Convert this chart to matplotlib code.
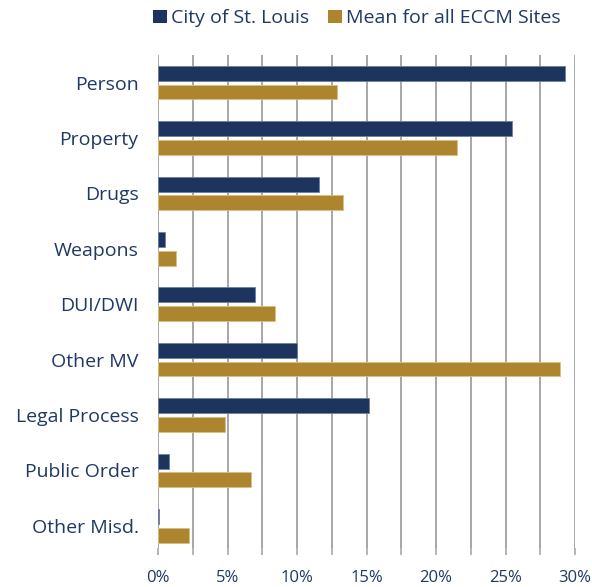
import matplotlib.pyplot as plt
import numpy as np
from matplotlib.patches import Patch
from matplotlib.ticker import MultipleLocator, FuncFormatter

categories = ["Person", "Property", "Drugs", "Weapons", "DUI/DWI",
              "Other MV", "Legal Process", "Public Order", "Other Misd."]
st_louis = [29.3, 25.5, 11.6, 0.5, 7.0, 10.0, 15.2, 0.8, 0.1]
eccm_mean = [12.9, 21.5, 13.3, 1.3, 8.4, 28.9, 4.8, 6.7, 2.2]
series_names = ["City of St. Louis", "Mean for all ECCM Sites"]

navy = "#1d355e"
gold = "#ae852f"
text_color = "#1f3864"

plt.rcParams["font.family"] = ["Open Sans", "DejaVu Sans"]

fig = plt.figure(figsize=(5.92, 5.87), dpi=100)
ax = fig.add_axes([0.2669, 0.0664, 0.7044, 0.8399])

y = np.arange(len(categories))
h = 0.27
off = 0.168
ax.barh(y - off, st_louis, height=h, color=navy, edgecolor="#6d7fa0", linewidth=0.6, zorder=3)
ax.barh(y + off, eccm_mean, height=h, color=gold, edgecolor="#d9bf86", linewidth=0.6, zorder=3)

ax.set_ylim(8.4, -0.5)
ax.set_xlim(0, 30)
ax.set_yticks(y)
ax.set_yticklabels(categories, fontsize=14, color=text_color)
ax.tick_params(axis="y", length=0, pad=14)

ax.xaxis.set_major_locator(MultipleLocator(5))
ax.xaxis.set_minor_locator(MultipleLocator(2.5))
ax.xaxis.set_major_formatter(FuncFormatter(lambda v, p: f"{v:.0f}%"))
ax.tick_params(axis="x", which="both", direction="out", length=5, width=1.2,
               color="#a8a8a8", labelsize=12, labelcolor=text_color, pad=11)
ax.grid(axis="x", which="both", color="#a0a0a0", linewidth=1.3, zorder=0)
ax.grid(axis="y", visible=False)
for s in ax.spines.values():
    s.set_visible(False)

handles = [Patch(facecolor=navy), Patch(facecolor=gold)]
leg = fig.legend(handles, series_names, loc="center", bbox_to_anchor=(0.603, 0.969),
                 ncol=2, frameon=False, fontsize=14, handlelength=0.7, handleheight=0.7,
                 handletextpad=0.2, columnspacing=1.0)
for t in leg.get_texts():
    t.set_color(text_color)

fig.savefig("out.png", dpi=100)
